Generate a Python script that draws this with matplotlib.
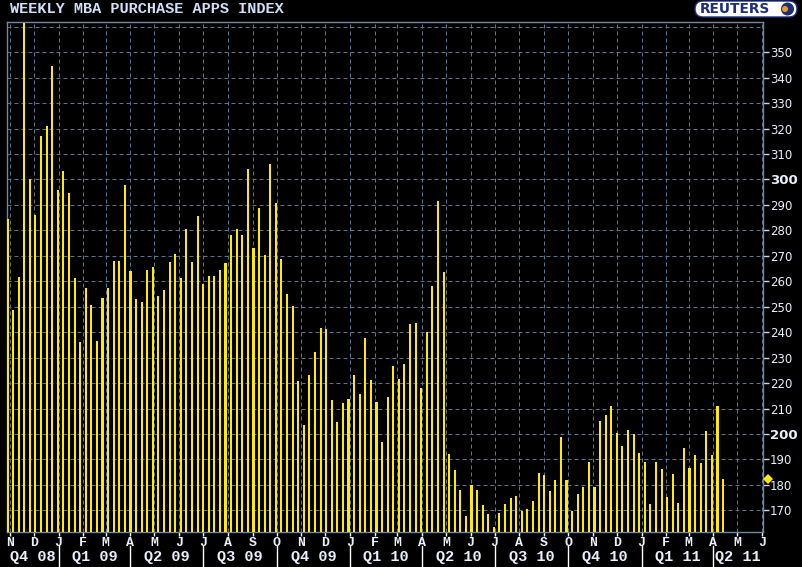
import matplotlib
matplotlib.use('Agg')
import matplotlib.pyplot as plt
import matplotlib.dates as mdates
import matplotlib.transforms as mtrans
from matplotlib.patches import FancyBboxPatch, Circle
import pandas as pd

# weekly MBA purchase index, one bar per week starting at first_week
title = 'WEEKLY MBA PURCHASE APPS INDEX'
first_week = '2008-10-29'
index_values = [
    284.6, 248.9, 261.8, 361.3, 300.0, 286.2, 316.9, 321.2, 344.4, 296.0,
    303.5, 294.5, 261.4, 236.3, 257.5, 250.8, 236.7, 253.6, 257.5, 268.1,
    268.1, 298.0, 264.2, 253.2, 252.0, 264.6, 265.8, 254.4, 256.7, 267.7,
    270.9, 261.4, 280.7, 267.7, 285.8, 259.1, 262.2, 262.2, 264.6, 267.3,
    278.0, 280.7, 278.0, 304.3, 273.2, 288.6, 270.5, 306.1, 290.7, 268.7,
    255.0, 250.2, 220.7, 203.4, 223.1, 232.1, 241.6, 241.2, 213.3, 204.6,
    212.1, 213.7, 223.1, 215.6, 237.7, 221.1, 212.5, 196.8, 214.5, 226.6,
    221.5, 227.4, 243.2, 243.6, 218.0, 240.0, 258.1, 291.5, 263.6, 192.2,
    185.9, 178.1, 167.8, 180.0, 178.1, 172.2, 168.6, 163.5, 169.0, 172.6,
    174.9, 175.7, 169.8, 170.6, 173.7, 184.7, 184.0, 177.7, 182.0, 198.9,
    182.0, 169.8, 176.5, 179.2, 189.1, 179.2, 205.2, 207.5, 211.1, 200.5,
    195.4, 201.7, 200.1, 192.6, 189.1, 172.6, 189.1, 186.3, 175.3, 184.4,
    173.0, 194.6, 186.7, 191.8, 188.7, 201.3, 191.8, 211.1, 182.4,
]
quarter_names = ['Q4 08', 'Q1 09', 'Q2 09', 'Q3 09', 'Q4 09', 'Q1 10',
                 'Q2 10', 'Q3 10', 'Q4 10', 'Q1 11', 'Q2 11']
quarter_starts = ['2008-10-01', '2009-01-01', '2009-04-01', '2009-07-01',
                  '2009-10-01', '2010-01-01', '2010-04-01', '2010-07-01',
                  '2010-10-01', '2011-01-01', '2011-04-01', '2011-07-01']
y_ticks = list(range(170, 360, 10))

weeks = pd.date_range(first_week, periods=len(index_values), freq='7D')
x_left = pd.Timestamp('2008-10-28')
x_right = pd.Timestamp('2011-06-02')

bar_col = '#ffeb00'
grid_col = '#5a7390'
spine_col = '#7088a2'
txt_col = '#e8f0fc'
mono = 'Liberation Mono'

fig = plt.figure(figsize=(8.02, 5.67), dpi=100, facecolor='black')
ax = fig.add_axes([6.7 / 802, 35.3 / 567, 756.3 / 802, 510 / 567])
ax.set_facecolor('black')

ax.bar(weeks, index_values, width=2.6, color=bar_col, linewidth=0, zorder=3)
ax.set_xlim(x_left, x_right)
ax.set_ylim(161.6, 362)

ax.set_axisbelow(True)
ax.grid(True, color=grid_col, linestyle=(0, (4, 3)), linewidth=0.72)
ax.axhline(360, color=grid_col, linestyle=(0, (4, 3)), linewidth=0.72, zorder=1)

for s in ax.spines.values():
    s.set_color(spine_col)
    s.set_linewidth(1)

# months along the bottom
ax.xaxis.set_major_locator(mdates.MonthLocator())
ax.xaxis.set_major_formatter(
    plt.FuncFormatter(lambda x, pos: mdates.num2date(x).strftime('%b')[0]))
ax.tick_params(axis='x', direction='out', length=3, width=1, color='white',
               pad=1, labelcolor=txt_col, labelsize=9.5)
for lab in ax.get_xticklabels():
    lab.set_fontfamily(mono)
    lab.set_fontweight('bold')

# value scale on the right
ax.yaxis.tick_right()
ax.set_yticks(y_ticks)
ax.set_yticklabels([str(t) for t in y_ticks])
ax.tick_params(axis='y', direction='out', length=4.3, width=1, color='#c8d4e4',
               pad=0.8, labelcolor=txt_col, labelsize=8.5)
for lab in ax.get_yticklabels():
    if lab.get_text() in ('200', '300'):
        lab.set_fontweight('bold')
        lab.set_fontsize(9.5)

# quarter labels and separators
trans = mtrans.blended_transform_factory(ax.transData, ax.transAxes)
lo, hi = mdates.date2num(x_left), mdates.date2num(x_right)
for i, name in enumerate(quarter_names):
    a = mdates.date2num(pd.Timestamp(quarter_starts[i]))
    b = mdates.date2num(pd.Timestamp(quarter_starts[i + 1]))
    mid = (max(a, lo) + min(b, hi)) / 2
    ax.text(mid, -0.0496, name, transform=trans, ha='center', va='center',
            color=txt_col, fontsize=11, family=mono, fontweight='bold')
    if a > lo:
        ax.plot([a, a], [-0.028, -0.068], transform=trans, color='white',
                lw=1, clip_on=False)

# marker for latest value
mark_trans = mtrans.blended_transform_factory(ax.transAxes, ax.transData)
ax.plot([1.0066], [index_values[-1]], transform=mark_trans, marker='D',
        ms=4.6, mew=0, color=bar_col, clip_on=False, zorder=5)

fig.text(10 / 802, 1 - 13.3 / 567, title, ha='left', va='baseline',
         color='#cfe0f8', fontsize=11, family=mono, fontweight='bold')

# logo
pix = mtrans.IdentityTransform()
fig.patches.append(FancyBboxPatch((695, 567 - 17), 102, 16,
                                  boxstyle='round,pad=0,rounding_size=8',
                                  facecolor='white', edgecolor='#1c2f78',
                                  lw=1, transform=pix, figure=fig))
fig.text(700 / 802, 1 - 13.3 / 567, 'REUTERS', ha='left', va='baseline',
         color='#1c2f78', fontsize=9.9, fontweight='bold')
fig.patches.append(Circle((787.5, 567 - 9), 6.5, facecolor='#1c2f78',
                          edgecolor='none', transform=pix, figure=fig))
fig.patches.append(Circle((785, 567 - 9), 3, facecolor='#f39a1e',
                          edgecolor='none', transform=pix, figure=fig))

fig.savefig('out.png', dpi=100, facecolor='black')
